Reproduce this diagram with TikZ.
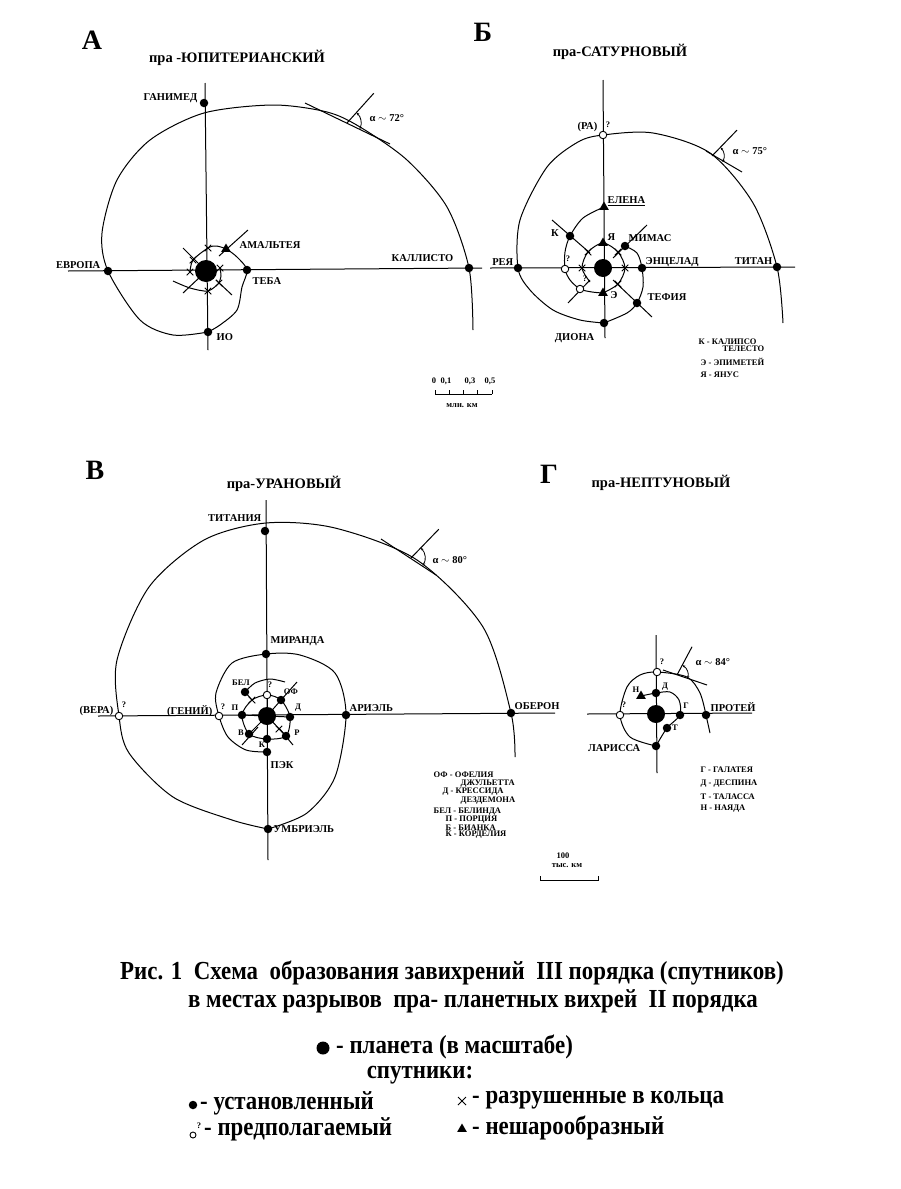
\documentclass[tikz,border=0pt]{standalone}
\usepackage{fontspec}
\setmainfont{Liberation Serif}
\newfontfamily\capfont[FakeStretch=0.88]{Liberation Serif}
\usepackage{tikz}
\usetikzlibrary{positioning,calc,shapes.geometric,shapes.misc,arrows.meta}

\pgfdeclarelayer{bg}
\pgfsetlayers{bg,main}

\tikzset{
  orb/.style={line width=1pt},
  axis/.style={line width=1pt},
  planet/.style={circle,fill,inner sep=0pt,minimum size=#1},
  sat/.style={circle,fill,inner sep=0pt,minimum size=8.5pt},
  hyp/.style={circle,draw,fill=white,line width=0.9pt,inner sep=0pt,minimum size=7.5pt},
  tri/.style={regular polygon,regular polygon sides=3,fill,inner sep=0pt,minimum size=11pt},
  brk/.style={cross out,draw,line width=1pt,inner sep=0pt,minimum size=5.5pt},
  lbl/.style={font=\bfseries\fontsize{10.5}{11}\selectfont,inner sep=0.5pt},
  tinylbl/.style={font=\bfseries\fontsize{8.5}{9}\selectfont,inner sep=0.5pt},
  ttl/.style={font=\bfseries\fontsize{14.5}{15}\selectfont},
  letter/.style={font=\bfseries\fontsize{28}{30}\selectfont},
  capline/.style={font=\capfont\bfseries\fontsize{26}{28}\selectfont,inner sep=0pt},
  angarc/.style={line width=0.8pt,{Stealth[length=3pt]}-{Stealth[length=3pt]}},
}

\begin{document}
\begin{tikzpicture}[x=1pt,y=-1pt]
  \useasboundingbox (0,0) rectangle (900,1189);

  % A: pra-Jupiter
  \node[letter] (letA) at (92,40) {А};
  \node[ttl] (ttlA) at (237,58) {пра -ЮПИТЕРИАНСКИЙ};
  \coordinate (jupW) at (68,271);
  \coordinate (jupE) at (482,268);
  \coordinate (jupN) at (205,83);
  \coordinate (jupS) at (208,350);
  \draw[axis] (jupW) -- (jupE);
  \draw[axis] (jupN) -- (jupS);
  \node[planet=22pt] (jup) at (206,271) {};
  \node[sat] (ganimed) at (204,103) {};
  \node[sat] (evropa) at (108,271) {};
  \node[sat] (kallisto) at (469,268) {};
  \node[sat] (io) at (208,332) {};
  \node[sat] (teba) at (247,270) {};
  \node[tri] (amalteya) at (226,249) {};
  \node[lbl,anchor=east] (tGanimed) at (198,98) {ГАНИМЕД};
  \node[lbl,anchor=east] (tEvropa) at (101,265) {ЕВРОПА};
  \node[lbl,anchor=east] (tKallisto) at (454,258) {КАЛЛИСТО};
  \node[lbl,anchor=west] (tIo) at (216,337) {ИО};
  \node[lbl,anchor=west] (tTeba) at (252,281) {ТЕБА};
  \node[lbl,anchor=west] (tAmalteya) at (239,245) {АМАЛЬТЕЯ};
  \foreach \p [count=\i] in {(208,248),(193,260),(190,272),(208,291),(219,283),(220,268)}
    \node[brk] (jupR\i) at \p {};
  \begin{pgfonlayer}{bg}
    \draw[orb] plot[smooth] coordinates {(io.center) (173,335) (140,320) (evropa.center)
      (102,233) (117,180) (150,140) (204,113) (273,105) (327,112) (360,127) (407,160)
      (447,207) (kallisto.center) (473,330)};
    \draw[orb] plot[smooth] coordinates {(io.center) (220,325) (237,310) (242,287)
      (teba.center) (237,257) (amalteya.center) (216,246) (jupR1.center) (jupR2.center)
      (jupR3.center)};
    \draw[orb] plot[smooth] coordinates {(173,281) (190,288) (jupR4.center) (jupR5.center)};
    \draw[orb] plot[smooth] coordinates {(jupR6.center) (221,276) (jupR5.center)};
    \draw[orb] (183,248) -- (198,263);
    \draw[orb] (183,293) -- (200,277);
    \draw[orb] (216,280) -- (232,295);
    \draw[orb] (219,256) -- (248,230);
  \end{pgfonlayer}
  \coordinate (vA) at (347,123);
  \draw[orb] (305,103) -- (390,144);
  \draw[orb] (vA) -- ++(-48:40);
  \draw[angarc] ($(vA)+(-48:14)$) arc[start angle=-48,end angle=26,radius=14];
  \node[lbl,anchor=west] (alA) at (369,118) {α $\sim$ 72°};

  % scale bar
  \node[tinylbl] (sb0) at (434,381) {0};
  \node[tinylbl] (sb1) at (446,381) {0,1};
  \node[tinylbl] (sb3) at (470,381) {0,3};
  \node[tinylbl] (sb5) at (490,381) {0,5};
  \draw[line width=0.9pt] (435,394) -- (492,394);
  \foreach \x in {435,449,463,477,492}
    \draw[line width=0.9pt] (\x,394) -- (\x,390);
  \node[tinylbl] (sbU) at (462,406) {млн. км};

  % Б: pra-Saturn
  \node[letter] (letB) at (483,32) {Б};
  \node[ttl] (ttlB) at (620,52) {пра-САТУРНОВЫЙ};
  \coordinate (satW) at (490,268);
  \coordinate (satE) at (795,267);
  \coordinate (satN) at (603,80);
  \coordinate (satS) at (605,338);
  \draw[axis] (satW) -- (satE);
  \draw[axis] (satN) -- (satS);
  \node[planet=18pt] (saturn) at (603,268) {};
  \node[sat] (reya) at (518,268) {};
  \node[sat] (titan) at (777,267) {};
  \node[hyp] (ra) at (603,135) {};
  \node[tri] (elena) at (604,207) {};
  \node[tri] (yanus) at (603,243) {};
  \node[sat] (mimas) at (625,246) {};
  \node[sat] (encelad) at (642,268) {};
  \node[sat] (tefiya) at (637,303) {};
  \node[sat] (diona) at (604,323) {};
  \node[sat] (kalipso) at (570,236) {};
  \node[hyp] (satQ1) at (565,269) {};
  \node[hyp] (satQ2) at (580,289) {};
  \node[tri] (epimetey) at (603,293) {};
  \foreach \p [count=\i] in {(588,252),(582,268),(618,252),(625,268),(618,284)}
    \node[brk] (satR\i) at \p {};
  \node[lbl,anchor=east] (tReya) at (514,262) {РЕЯ};
  \node[lbl,anchor=east] (tTitan) at (773,261) {ТИТАН};
  \node[lbl,anchor=east] (tRa) at (598,127) {(РА)};
  \node[tinylbl] (qRa) at (608,125) {?};
  \node[lbl,anchor=west] (tElena) at (607,201) {\underline{ЕЛЕНА}};
  \node[lbl,anchor=west] (tYanus) at (607,237) {Я};
  \node[lbl,anchor=west] (tMimas) at (628,238) {МИМАС};
  \node[lbl,anchor=west] (tEncelad) at (645,262) {ЭНЦЕЛАД};
  \node[lbl,anchor=west] (tTefiya) at (647,297) {ТЕФИЯ};
  \node[lbl,anchor=east] (tDiona) at (595,338) {ДИОНА};
  \node[lbl] (tKalipso) at (555,233) {К};
  \node[tinylbl] (qSat1) at (568,259) {?};
  \node[tinylbl] (qSat2) at (585,279) {?};
  \node[lbl] (tEpimetey) at (614,295) {Э};
  \begin{pgfonlayer}{bg}
    \draw[orb] plot[smooth] coordinates {(diona.center) (580,320) (553,310) (530,290)
      (reya.center) (520,220) (547,167) (578,142) (ra.center) (653,133) (710,153)
      (753,203) (titan.center) (783,323)};
    \draw[orb] plot[smooth] coordinates {(diona.center) (627,313) (tefiya.center)
      (643,287) (encelad.center) (637,253) (mimas.center)};
    \draw[orb] plot[smooth] coordinates {(elena.center) (583,218) (kalipso.center)
      (565,252) (satQ1.center) (570,280) (satQ2.center) (592,292) (epimetey.center)};
    \draw[orb] plot[smooth] coordinates {(epimetey.center) (satR5.center) (satR4.center)
      (satR3.center) (yanus.center) (satR1.center) (satR2.center) (590,282)};
    \draw[orb] (552,220) -- (590,253);
    \draw[orb] (568,303) -- (590,280);
    \draw[orb] (613,280) -- (652,317);
    \draw[orb] (647,225) -- (613,258);
  \end{pgfonlayer}
  \coordinate (vB) at (712,156);
  \draw[orb] (706,151) -- (742,172);
  \draw[orb] (vB) -- ++(-46:36);
  \draw[angarc] ($(vB)+(-46:12)$) arc[start angle=-46,end angle=30,radius=12];
  \node[lbl,anchor=west] (alB) at (732,151) {α $\sim$ 75°};
  \node[tinylbl,anchor=west] (lgB1) at (698,342) {К - КАЛИПСО};
  \node[tinylbl,anchor=west] (lgB2) at (722,349) {ТЕЛЕСТО};
  \node[tinylbl,anchor=west] (lgB3) at (700,362) {Э - ЭПИМЕТЕЙ};
  \node[tinylbl,anchor=west] (lgB4) at (700,375) {Я - ЯНУС};

  % В: pra-Uranus
  \node[letter] (letV) at (95,470) {В};
  \node[ttl] (ttlV) at (284,484) {пра-УРАНОВЫЙ};
  \coordinate (urW) at (98,716);
  \coordinate (urE) at (555,713);
  \coordinate (urN) at (266,500);
  \coordinate (urS) at (268,860);
  \draw[axis] (urW) -- (urE);
  \draw[axis] (urN) -- (urS);
  \node[planet=18pt] (uranus) at (267,716) {};
  \node[sat] (titaniya) at (265,531) {};
  \node[sat] (miranda) at (266,654) {};
  \node[sat] (ariel) at (346,715) {};
  \node[sat] (oberon) at (511,713) {};
  \node[hyp] (vera) at (119,716) {};
  \node[hyp] (geniy) at (219,716) {};
  \node[sat] (pek) at (267,752) {};
  \node[sat] (umbriel) at (268,829) {};
  \node[sat] (bel) at (245,692) {};
  \node[hyp] (urQ) at (267,695) {};
  \node[sat] (of) at (281,700) {};
  \node[sat] (urD) at (290,717) {};
  \node[sat] (urP) at (286,736) {};
  \node[sat] (urK) at (267,739) {};
  \node[sat] (urB) at (249,734) {};
  \node[sat] (urPo) at (242,715) {};
  \node[brk] (urR1) at (252,700) {};
  \node[brk] (urR2) at (279,729) {};
  \node[lbl,anchor=east] (tTitaniya) at (262,518) {ТИТАНИЯ};
  \node[lbl,anchor=west] (tMiranda) at (270,641) {МИРАНДА};
  \node[lbl,anchor=west] (tAriel) at (349,708) {АРИЭЛЬ};
  \node[lbl,anchor=west] (tOberon) at (514,706) {ОБЕРОН};
  \node[lbl,anchor=east] (tVera) at (114,711) {(ВЕРА)};
  \node[tinylbl] (qVera) at (124,705) {?};
  \node[lbl,anchor=east] (tGeniy) at (213,711) {(ГЕНИЙ)};
  \node[tinylbl] (qGeniy) at (223,707) {?};
  \node[lbl,anchor=west] (tPek) at (270,765) {ПЭК};
  \node[lbl,anchor=west] (tUmbriel) at (273,829) {УМБРИЭЛЬ};
  \node[tinylbl] (tBel) at (241,683) {БЕЛ};
  \node[tinylbl] (qUr) at (270,685) {?};
  \node[tinylbl] (tOf) at (291,692) {ОФ};
  \node[tinylbl] (tUrD) at (298,708) {Д};
  \node[tinylbl] (tUrP) at (297,733) {Р};
  \node[tinylbl] (tUrK) at (262,745) {К};
  \node[tinylbl] (tUrB) at (241,733) {В};
  \node[tinylbl] (tUrPo) at (235,708) {П};
  \begin{pgfonlayer}{bg}
    \draw[orb] plot[smooth] coordinates {(umbriel.center) (232,820) (173,797) (129,753)
      (vera.center) (117,660) (149,587) (204,540) (266,523) (335,528) (417,560)
      (483,627) (oberon.center) (515,757)};
    \draw[orb] plot[smooth] coordinates {(umbriel.center) (307,813) (335,777)
      (ariel.center) (335,673) (300,655) (miranda.center) (232,663) (216,693)
      (geniy.center) (228,737) (246,750) (pek.center)};
    \draw[orb] plot[smooth cycle] coordinates {(urQ.center) (of.center) (urD.center)
      (urP.center) (urK.center) (urB.center) (urPo.center) (urR1.center)};
    \draw[orb] plot[smooth] coordinates {(bel.center) (255,683) (270,679) (285,682)};
    \foreach \s in {urQ,of,urD,urP,urK,urB,urPo}
      \draw[orb] (uranus.center) -- (\s.center);
    \draw[orb] (bel.center) -- (urR1.center);
    \draw[orb] (242,745) -- (258,727);
    \draw[orb] (293,745) -- (279,728);
    \draw[orb] (297,682) -- (281,700);
  \end{pgfonlayer}
  \coordinate (vV) at (411,558);
  \draw[orb] (381,539) -- (436,575);
  \draw[orb] (vV) -- ++(-46:40);
  \draw[angarc] ($(vV)+(-46:14)$) arc[start angle=-46,end angle=33,radius=14];
  \node[lbl,anchor=west] (alV) at (432,560) {α $\sim$ 80°};
  \node[tinylbl,anchor=west] (lgV1) at (433,775) {ОФ - ОФЕЛИЯ};
  \node[tinylbl,anchor=west] (lgV2) at (460,784) {ДЖУЛЬЕТТА};
  \node[tinylbl,anchor=west] (lgV3) at (442,792) {Д - КРЕССИДА};
  \node[tinylbl,anchor=west] (lgV4) at (460,801) {ДЕЗДЕМОНА};
  \node[tinylbl,anchor=west] (lgV5) at (433,812) {БЕЛ - БЕЛИНДА};
  \node[tinylbl,anchor=west] (lgV6) at (445,820) {П - ПОРЦИЯ};
  \node[tinylbl,anchor=west] (lgV7) at (445,828) {Б - БИАНКА};
  \node[tinylbl,anchor=west] (lgV8) at (445,835) {К - КОРДЕЛИЯ};
  \node[tinylbl] (sbV1) at (563,856) {100};
  \node[tinylbl] (sbV2) at (567,866) {тыс. км};
  \draw[line width=0.9pt] (540,876) -- (540,880) -- (598,880) -- (598,876);

  % Г: pra-Neptune
  \node[letter] (letG) at (549,474) {Г};
  \node[ttl] (ttlG) at (661,483) {пра-НЕПТУНОВЫЙ};
  \coordinate (nepW) at (587,714);
  \coordinate (nepE) at (752,713);
  \coordinate (nepN) at (656,635);
  \coordinate (nepS) at (657,773);
  \draw[axis] (nepW) -- (nepE);
  \draw[axis] (nepN) -- (nepS);
  \node[planet=18pt] (neptun) at (656,714) {};
  \node[hyp] (nepQ1) at (657,672) {};
  \node[hyp] (nepQ2) at (620,715) {};
  \node[sat] (larissa) at (656,746) {};
  \node[sat] (protey) at (706,715) {};
  \node[sat] (despina) at (656,693) {};
  \node[sat] (galateya) at (680,715) {};
  \node[tri] (nayada) at (641,696) {};
  \node[sat] (talassa) at (667,728) {};
  \node[tinylbl] (qNep1) at (662,662) {?};
  \node[tinylbl] (qNep2) at (624,705) {?};
  \node[lbl,anchor=east] (tLarissa) at (641,748) {ЛАРИССА};
  \node[lbl,anchor=west] (tProtey) at (710,707) {ПРОТЕЙ};
  \node[tinylbl] (tDespina) at (665,687) {Д};
  \node[tinylbl] (tGalateya) at (686,706) {Г};
  \node[tinylbl] (tNayada) at (636,690) {Н};
  \node[tinylbl] (tTalassa) at (675,728) {Т};
  \begin{pgfonlayer}{bg}
    \draw[orb] plot[smooth] coordinates {(larissa.center) (630,737) (nepQ2.center)
      (627,687) (640,675) (nepQ1.center) (687,677) (700,693) (protey.center)};
    \draw[orb] plot[smooth] coordinates {(larissa.center) (talassa.center)
      (galateya.center) (679,700) (670,692) (despina.center) (nayada.center)};
    \draw[orb] (protey.center) -- (710,733);
  \end{pgfonlayer}
  \coordinate (vG) at (677,675);
  \draw[orb] (663,670) -- (707,685);
  \draw[orb] (vG) -- ++(-62:32);
  \draw[angarc] ($(vG)+(-62:11)$) arc[start angle=-62,end angle=19,radius=11];
  \node[lbl,anchor=west] (alG) at (695,662) {α $\sim$ 84°};
  \node[tinylbl,anchor=west] (lgG1) at (700,770) {Г - ГАЛАТЕЯ};
  \node[tinylbl,anchor=west] (lgG2) at (700,784) {Д - ДЕСПИНА};
  \node[tinylbl,anchor=west] (lgG3) at (700,797) {Т - ТАЛАССА};
  \node[tinylbl,anchor=west] (lgG4) at (700,809) {Н - НАЯДА};

  % caption and legend
  \node[capline] (cap1) at (452,973) {Рис. 1\ \ Схема\ \ образования завихрений\ \ III порядка (спутников)};
  \node[capline] (cap2) at (473,1001) {в местах разрывов\ \ пра- планетных вихрей\ \ II порядка};
  \node[planet=13pt] (lgPlanet) at (323,1048) {};
  \node[capline,anchor=west] (lgPlanetT) at (336,1047) {- планета (в масштабе)};
  \node[capline] (lgSat) at (420,1075) {спутники:};
  \node[sat] (lgEst) at (193,1105) {};
  \node[capline,anchor=west] (lgEstT) at (200,1103) {- установленный};
  \node[brk,minimum size=7pt] (lgBrk) at (462,1101) {};
  \node[capline,anchor=west] (lgBrkT) at (472,1100) {- разрушенные в кольца};
  \node[hyp,minimum size=6pt] (lgHyp) at (193,1135) {};
  \node[tinylbl] (lgHypQ) at (199,1126) {?};
  \node[capline,anchor=west] (lgHypT) at (204,1129) {- предполагаемый};
  \node[tri] (lgTri) at (462,1129) {};
  \node[capline,anchor=west] (lgTriT) at (472,1128) {- нешарообразный};
\end{tikzpicture}
\end{document}
